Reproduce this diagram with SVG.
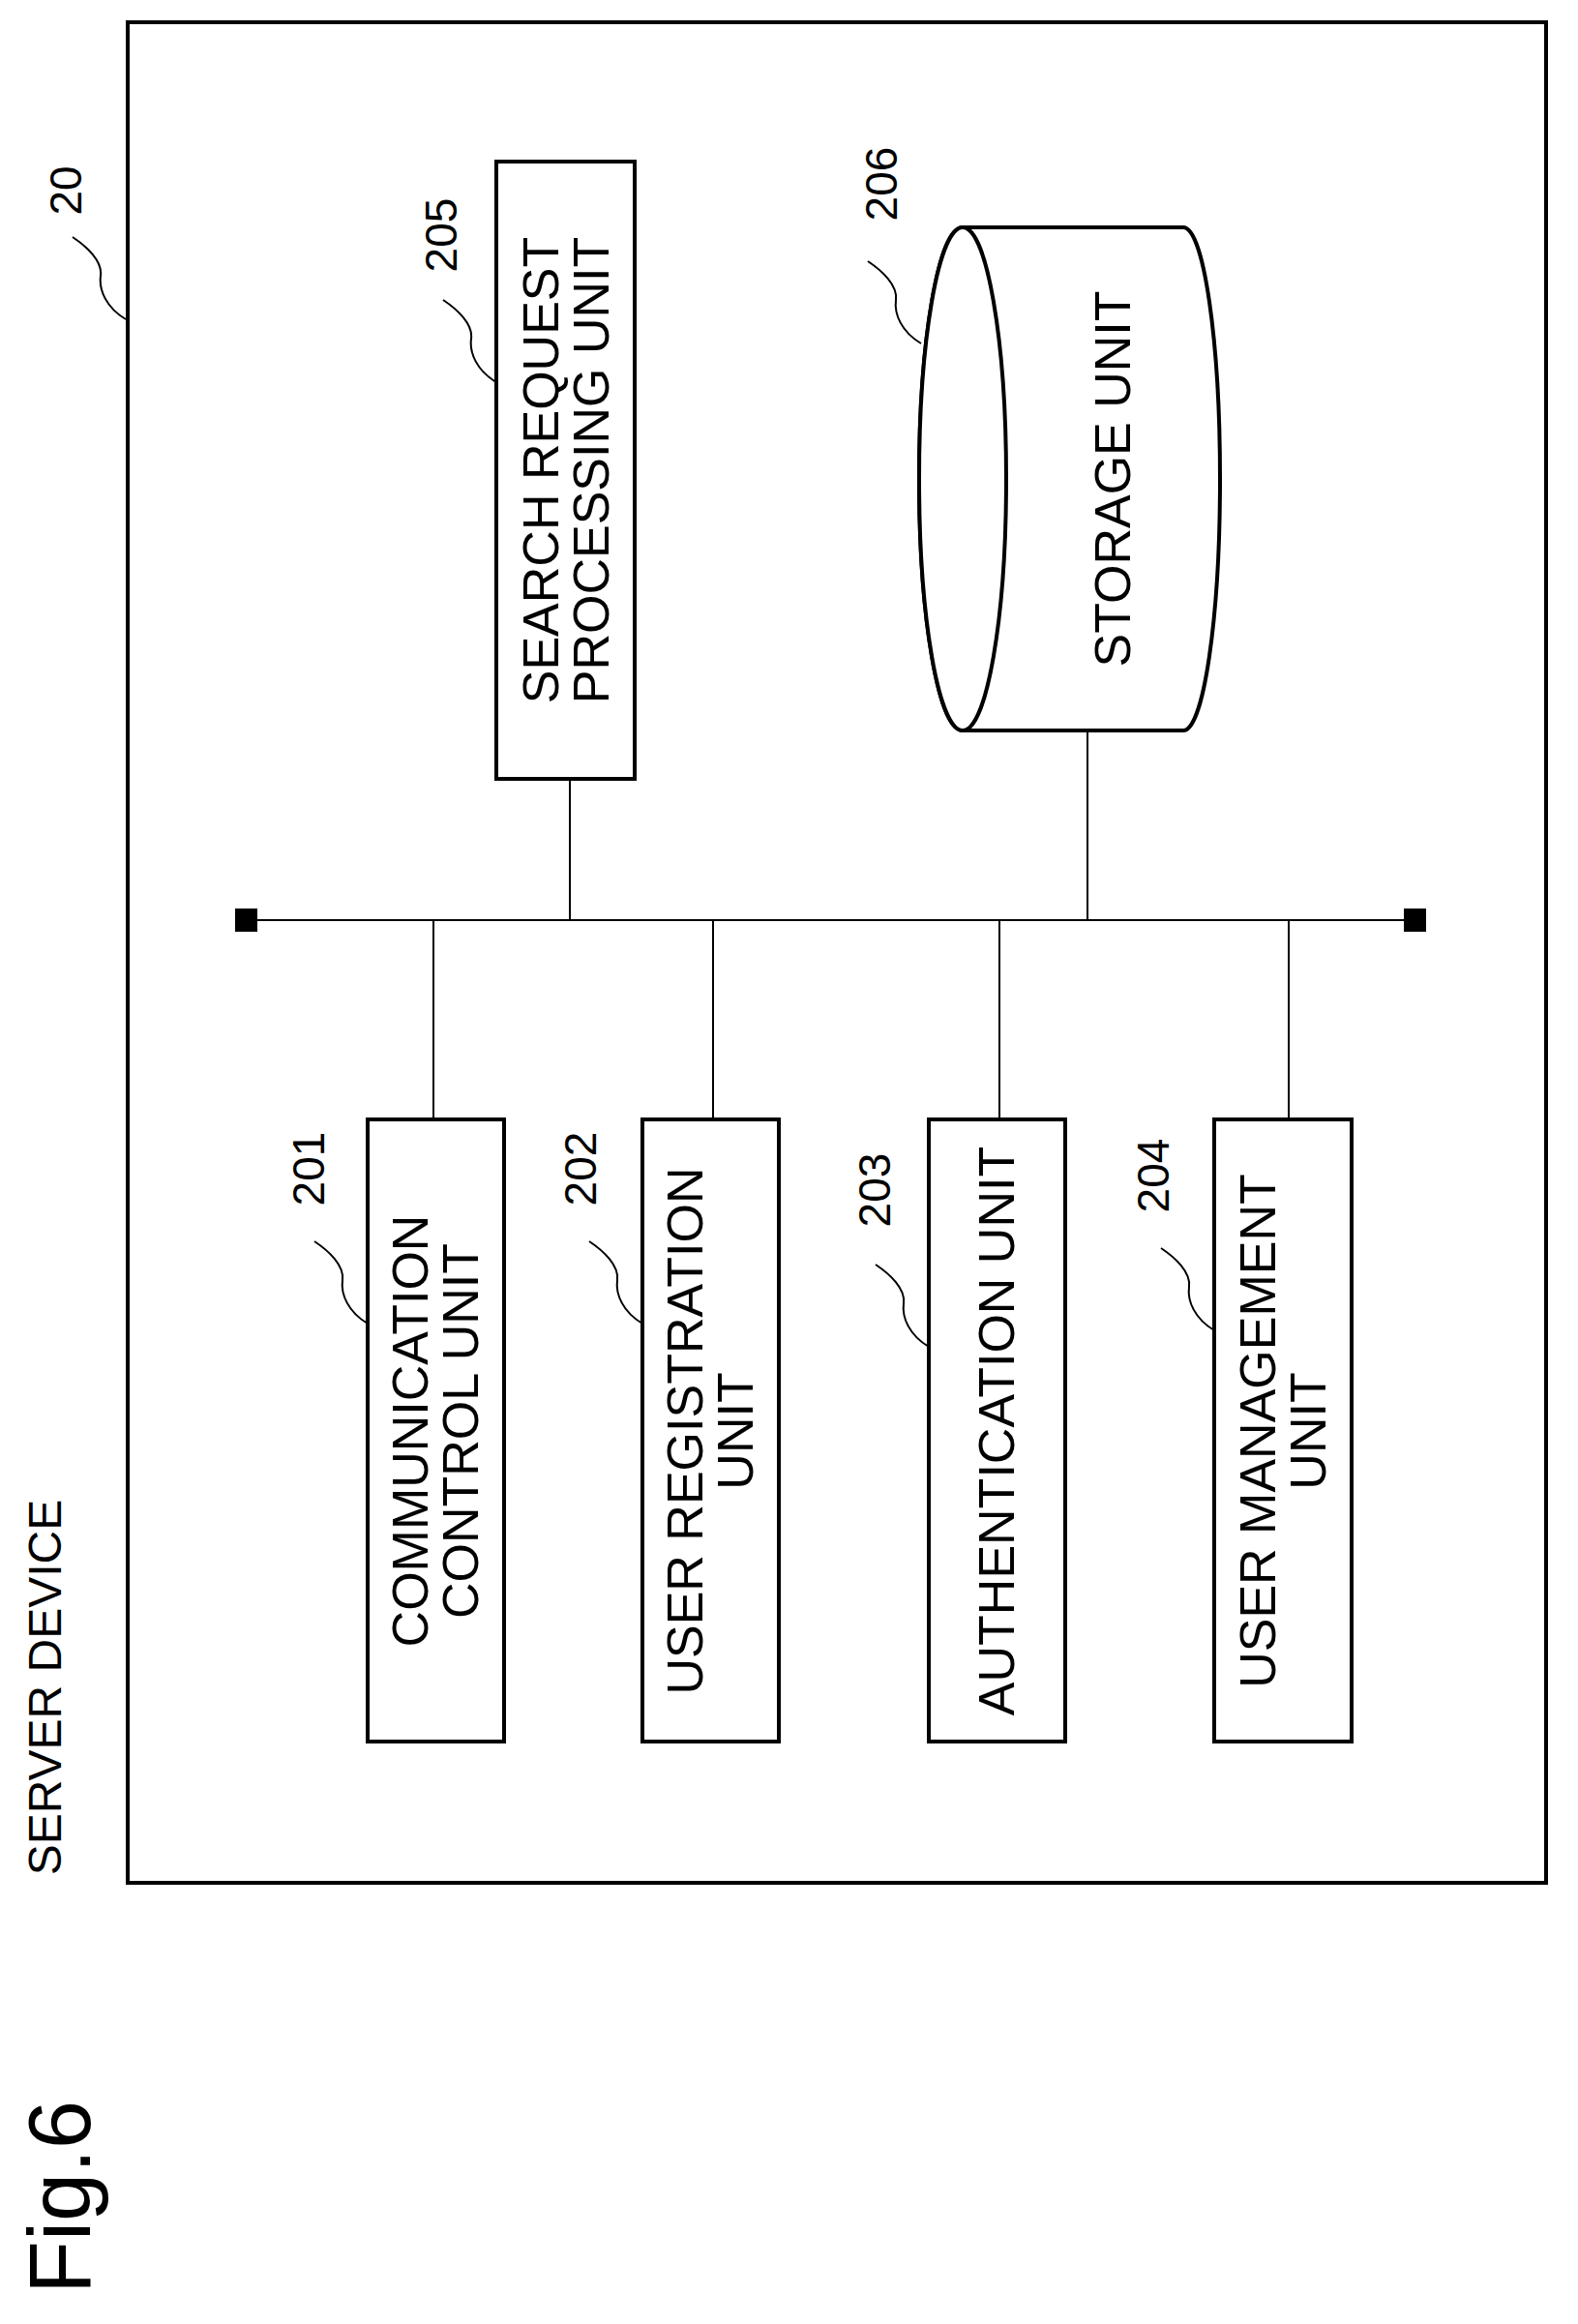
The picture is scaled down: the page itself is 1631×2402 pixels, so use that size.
<svg xmlns="http://www.w3.org/2000/svg" width="1631" height="2402" viewBox="0 0 1631 2402">
<style>
.b{fill:#fff;stroke:#000;stroke-width:4}
.l{fill:none;stroke:#000;stroke-width:2}
.t{font-family:"Liberation Sans",Arial,sans-serif;font-size:52px;text-anchor:middle;fill:#000}
.n{font-family:"Liberation Sans",Arial,sans-serif;font-size:46px;text-anchor:middle;fill:#000}
</style>
<defs>
<path id="ld" d="M0,0 C-20,-12 -28,-30 -26,-45 C-24,-60 -40,-75 -55,-85" fill="none" stroke="#000" stroke-width="2"/>
</defs>
<g id="outer">
<rect x="132" y="23" width="1466" height="1923" fill="none" stroke="#000" stroke-width="4"/>
<text class="n" transform="translate(68,197) rotate(-90)" dy="16">20</text>
<use href="#ld" x="130" y="330"/>
</g>
<g id="title">
<text class="t" style="font-size:48px" transform="translate(46,1744) rotate(-90)" dy="17">SERVER DEVICE</text>
<text class="t" style="font-size:90px" transform="translate(61,2271) rotate(-90)" dy="32">Fig.6</text>
</g>
<g id="connectors">
<line class="l" x1="251" y1="951" x2="1466" y2="951"/>
<rect x="243" y="939" width="23" height="24" fill="#000"/>
<rect x="1451" y="939" width="23" height="24" fill="#000"/>
<line class="l" x1="589" y1="805" x2="589" y2="951"/>
<line class="l" x1="1124" y1="755" x2="1124" y2="951"/>
<line class="l" x1="448" y1="951" x2="448" y2="1157"/>
<line class="l" x1="737" y1="951" x2="737" y2="1157"/>
<line class="l" x1="1033" y1="951" x2="1033" y2="1157"/>
<line class="l" x1="1332" y1="951" x2="1332" y2="1157"/>
</g>
<g id="n205">
<rect class="b" x="513" y="167" width="143" height="638"/>
<text class="t" transform="translate(585,486) rotate(-90)"><tspan x="0" y="-8">SEARCH REQUEST</tspan><tspan x="0" y="44">PROCESSING UNIT</tspan></text>
<text class="n" transform="translate(456,243) rotate(-90)" dy="16">205</text>
<use href="#ld" x="513" y="395"/>
</g>
<g id="n206">
<path class="b" d="M995,235 L1223,235 A38,260 0 0 1 1223,755 L995,755 A45,260 0 0 1 995,235 Z"/>
<ellipse class="b" cx="995" cy="495" rx="45" ry="260"/>
<text class="t" transform="translate(1150,495) rotate(-90)" dy="18">STORAGE UNIT</text>
<text class="n" transform="translate(911,190) rotate(-90)" dy="16">206</text>
<use href="#ld" x="952" y="355"/>
</g>
<g id="n201">
<rect class="b" x="380" y="1157" width="141" height="643"/>
<text class="t" transform="translate(450,1479) rotate(-90)"><tspan x="0" y="-8">COMMUNICATION</tspan><tspan x="0" y="44">CONTROL UNIT</tspan></text>
<text class="n" transform="translate(319,1208) rotate(-90)" dy="16">201</text>
<use href="#ld" x="380" y="1368"/>
</g>
<g id="n202">
<rect class="b" x="664" y="1157" width="141" height="643"/>
<text class="t" transform="translate(734,1479) rotate(-90)"><tspan x="0" y="-8">USER REGISTRATION</tspan><tspan x="0" y="44">UNIT</tspan></text>
<text class="n" transform="translate(600,1208) rotate(-90)" dy="16">202</text>
<use href="#ld" x="664" y="1368"/>
</g>
<g id="n203">
<rect class="b" x="960" y="1157" width="141" height="643"/>
<text class="t" transform="translate(1030,1479) rotate(-90)" dy="18">AUTHENTICATION UNIT</text>
<text class="n" transform="translate(904,1230) rotate(-90)" dy="16">203</text>
<use href="#ld" x="960" y="1392"/>
</g>
<g id="n204">
<rect class="b" x="1255" y="1157" width="142" height="643"/>
<text class="t" transform="translate(1326,1479) rotate(-90)"><tspan x="0" y="-8">USER MANAGEMENT</tspan><tspan x="0" y="44">UNIT</tspan></text>
<text class="n" transform="translate(1192,1215) rotate(-90)" dy="16">204</text>
<use href="#ld" x="1255" y="1375"/>
</g>
</svg>
